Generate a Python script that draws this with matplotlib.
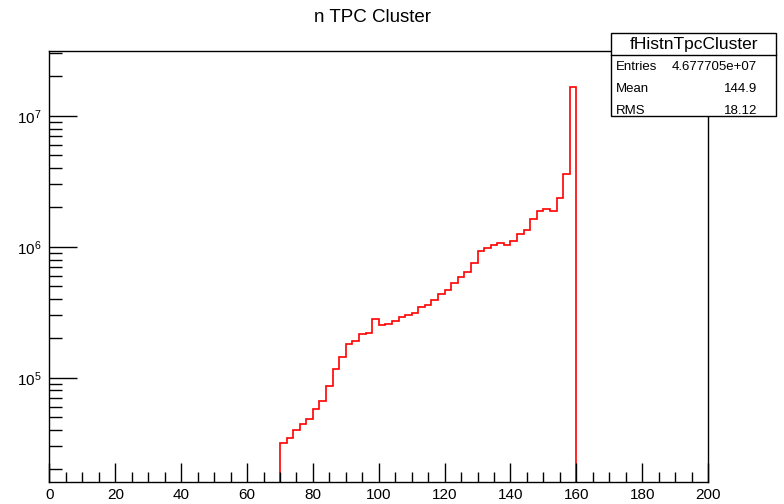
import numpy as np
import matplotlib
matplotlib.use("Agg")
import matplotlib.pyplot as plt
from matplotlib.ticker import LogLocator, NullFormatter, MultipleLocator
from matplotlib.patches import Rectangle

plt.rcParams["font.family"] = ["Liberation Sans", "DejaVu Sans"]

# bin edges (width 2) and contents of the non-empty bins
edges = np.arange(70, 162, 2)
counts = [3.16e4, 3.48e4, 4.0e4, 4.4e4, 4.85e4, 5.8e4, 6.7e4, 8.7e4, 1.17e5, 1.45e5,
          1.81e5, 1.9e5, 2.16e5, 2.21e5, 2.8e5, 2.52e5, 2.58e5, 2.7e5, 2.9e5, 3.0e5,
          3.15e5, 3.47e5, 3.6e5, 3.9e5, 4.4e5, 4.68e5, 5.26e5, 5.9e5, 6.46e5, 7.5e5,
          9.3e5, 9.8e5, 1.035e6, 1.07e6, 1.035e6, 1.11e6, 1.25e6, 1.35e6, 1.63e6, 1.89e6,
          1.95e6, 1.89e6, 2.35e6, 3.63e6, 1.65e7]

hist_name = "fHistnTpcCluster"
stat_names = ["Entries", "Mean", "RMS"]
stat_values = ["4.677705e+07", "144.9", "18.12"]

W, H = 784, 504
fig = plt.figure(figsize=(W / 100, H / 100), dpi=100)
ax = fig.add_axes([49.5 / W, 1 - 482 / H, 658.5 / W, 431 / H])

ax.stairs(counts, edges, baseline=1e3, color="#ff0000", lw=1.2)
ax.set_yscale("log")
ax.set_xlim(0, 200)
ax.set_ylim(1.6e4, 3.13e7)

ax.xaxis.set_major_locator(MultipleLocator(20))
ax.xaxis.set_minor_locator(MultipleLocator(5))
ax.yaxis.set_major_locator(LogLocator(base=10, numticks=10))
ax.yaxis.set_minor_locator(LogLocator(base=10, subs=np.arange(2, 10), numticks=20))
ax.yaxis.set_minor_formatter(NullFormatter())

ax.tick_params(axis="both", which="both", direction="in", top=False, right=False,
               width=1, labelsize=11)
ax.tick_params(axis="x", which="major", length=14, pad=4)
ax.tick_params(axis="x", which="minor", length=7)
ax.tick_params(axis="y", which="major", length=20, pad=6)
ax.tick_params(axis="y", which="minor", length=9)
for s in ax.spines.values():
    s.set_linewidth(1)

fig.text(373 / W, 1 - 18 / H, "n TPC Cluster", ha="center", va="center", fontsize=13.5)

# stats box
bx0, bx1, by0, by1, bsep = 611, 776, 33, 116, 55
def fx(x):
    return x / W
def fy(y):
    return 1 - y / H
fig.patches.append(Rectangle((fx(bx0), fy(by1)), fx(bx1) - fx(bx0), fy(by0) - fy(by1),
                             transform=fig.transFigure, fill=True, facecolor="white",
                             edgecolor="black", lw=1, zorder=5))
fig.add_artist(plt.Line2D([fx(bx0), fx(bx1)], [fy(bsep), fy(bsep)],
                          transform=fig.transFigure, color="black", lw=1, zorder=6))
fig.text(fx((bx0 + bx1) / 2), fy(44), hist_name, ha="center", va="center", fontsize=12.5, zorder=7)
for i, (n, v) in enumerate(zip(stat_names, stat_values)):
    y = 67 + i * 22
    fig.text(fx(616), fy(y), n, ha="left", va="center", fontsize=9.5, zorder=7)
    fig.text(fx(757), fy(y), v, ha="right", va="center", fontsize=9.5, zorder=7)

fig.savefig("out.png", dpi=100)
